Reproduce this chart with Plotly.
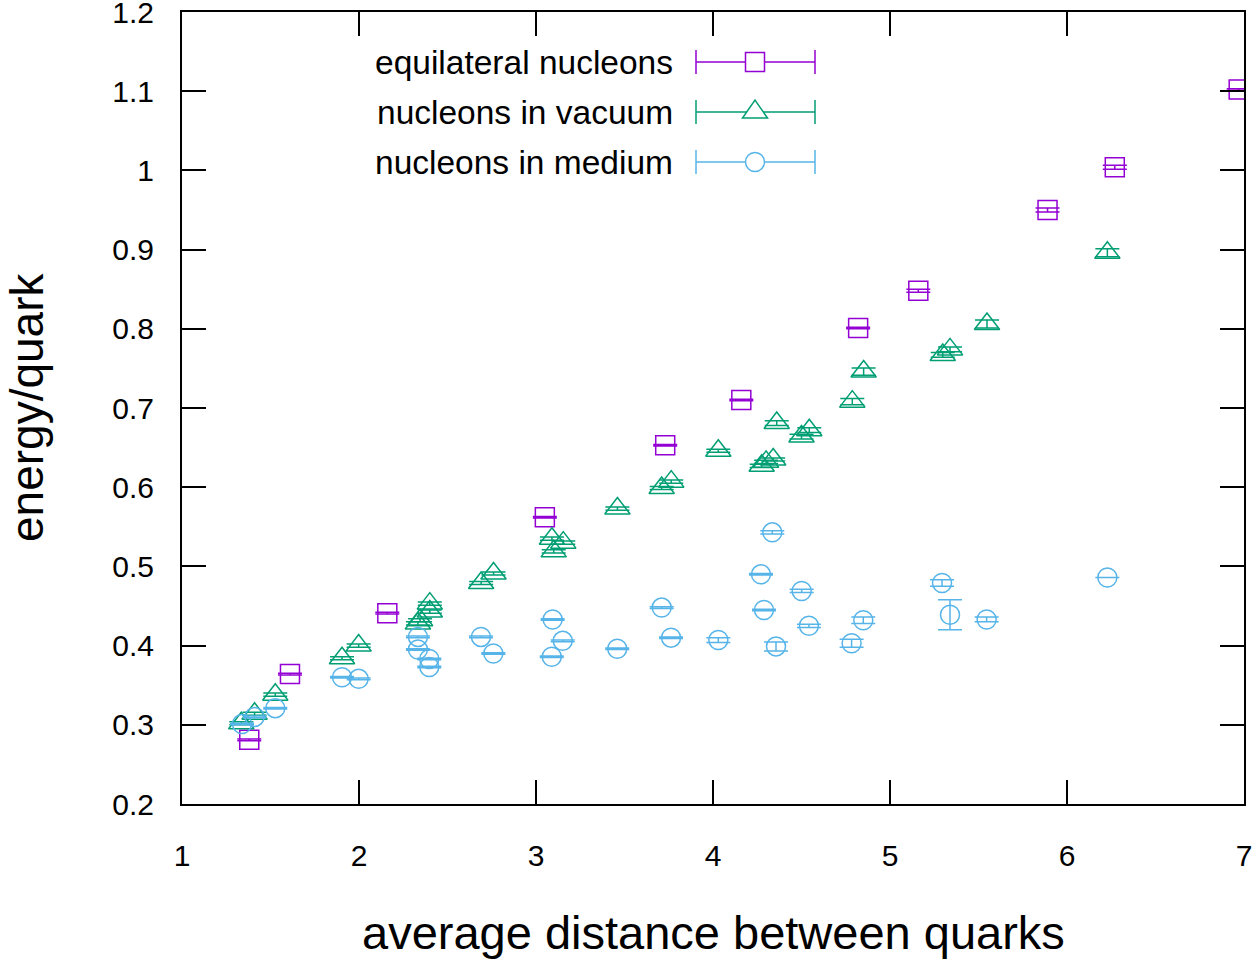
import plotly.graph_objects as go

# ---- data ----
eq_x = [1.38, 1.61, 2.16, 3.05, 3.73, 4.16, 4.82, 5.16, 5.89, 6.27, 6.97]
eq_y = [0.281, 0.364, 0.441, 0.562, 0.653, 0.710, 0.801, 0.848, 0.950, 1.004, 1.102]
eq_e = [0.001, 0.001, 0.001, 0.001, 0.001, 0.001, 0.001, 0.002, 0.0025, 0.0025, 0.001]

vac_x = [1.335, 1.41, 1.527, 1.904, 1.998, 2.333, 2.345, 2.40, 2.40, 2.69, 2.76,
         3.09, 3.10, 3.154, 3.46, 3.71, 3.764, 4.03, 4.275, 4.30, 4.34, 4.36,
         4.50, 4.544, 4.787, 4.851, 5.298, 5.339, 5.548, 6.228]
vac_y = [0.302, 0.314, 0.338, 0.384, 0.400, 0.428, 0.432, 0.443, 0.453, 0.479, 0.491,
         0.535, 0.519, 0.530, 0.573, 0.599, 0.607, 0.646, 0.627, 0.632, 0.635, 0.681,
         0.664, 0.672, 0.708, 0.746, 0.767, 0.774, 0.806, 0.896]
vac_e = [0.002, 0.002, 0.002, 0.002, 0.002, 0.002, 0.002, 0.002, 0.002, 0.002, 0.002,
         0.002, 0.002, 0.002, 0.002, 0.002, 0.002, 0.002, 0.002, 0.002, 0.002, 0.003,
         0.003, 0.003, 0.004, 0.0045, 0.003, 0.003, 0.005, 0.005]

med_x = [1.339, 1.41, 1.527, 1.904, 1.998, 2.333, 2.333, 2.397, 2.397, 2.689, 2.759,
         3.094, 3.151, 3.089, 3.459, 3.71, 3.763, 4.03, 4.271, 4.335, 4.288, 4.356,
         4.501, 4.542, 4.783, 4.849, 5.294, 5.339, 5.546, 6.228]
med_y = [0.301, 0.310, 0.321, 0.360, 0.358, 0.411, 0.395, 0.383, 0.373, 0.411, 0.390,
         0.433, 0.406, 0.386, 0.396, 0.448, 0.410, 0.407, 0.490, 0.543, 0.445, 0.399,
         0.469, 0.425, 0.403, 0.432, 0.479, 0.439, 0.433, 0.486]
med_e = [0.001, 0.001, 0.001, 0.001, 0.001, 0.001, 0.001, 0.001, 0.001, 0.001, 0.001,
         0.001, 0.001, 0.001, 0.001, 0.001, 0.001, 0.003, 0.001, 0.002, 0.001, 0.0057,
         0.002, 0.002, 0.005, 0.004, 0.004, 0.019, 0.003, None]

x_ticks = [1, 2, 3, 4, 5, 6, 7]
y_ticks = [0.2, 0.3, 0.4, 0.5, 0.6, 0.7, 0.8, 0.9, 1.0, 1.1, 1.2]
y_ticktext = ["0.2", "0.3", "0.4", "0.5", "0.6", "0.7", "0.8", "0.9", "1", "1.1", "1.2"]

names = ["equilateral nucleons", "nucleons in vacuum", "nucleons in medium"]
colors = ["#9400D3", "#009E73", "#56B4E9"]
symbols = ["square-open", "triangle-up-open", "circle-open"]
sizes = [19, 22, 19]

FONT = "Liberation Sans, Arial, Helvetica, sans-serif"

fig = go.Figure()
for xs, ys, es, nm, c, s, sz in zip([eq_x, vac_x, med_x], [eq_y, vac_y, med_y],
                                    [eq_e, vac_e, med_e], names, colors, symbols, sizes):
    fig.add_trace(go.Scatter(
        x=xs, y=ys, mode="markers", name=nm,
        marker=dict(symbol=s, size=sz, color=c, line=dict(width=1.5, color=c)),
        error_y=dict(type="data", array=es, visible=True, color=c, thickness=1.5, width=12),
        showlegend=False,
    ))

# plot-area pixel geometry (for legend placement)
L, R, T, B = 182, 1244, 12, 804
def px(xp):
    return (xp - L) / (R - L)
def py(yp):
    return (B - yp) / (B - T)

shapes = []
annotations = []
rows = [62, 112, 162]
for i, (nm, c) in enumerate(zip(names, colors)):
    yc = rows[i]
    annotations.append(dict(x=px(672), y=py(yc), xref="paper", yref="paper", text=nm,
                            showarrow=False, xanchor="right", yanchor="middle", xshift=3,
                            font=dict(family=FONT, size=33.5, color="black")))
    shapes.append(dict(type="line", xref="paper", yref="paper", x0=px(696), x1=px(815),
                       y0=py(yc), y1=py(yc), line=dict(color=c, width=1.5)))
    for xe in (696, 815):
        shapes.append(dict(type="line", xref="paper", yref="paper", x0=px(xe), x1=px(xe),
                           y0=py(yc - 12), y1=py(yc + 12), line=dict(color=c, width=1.5)))
    if i == 0:
        shapes.append(dict(type="rect", xref="paper", yref="paper", x0=px(745.5), x1=px(764.5),
                           y0=py(yc + 9.5), y1=py(yc - 9.5), line=dict(color=c, width=1.5),
                           fillcolor="white"))
    elif i == 1:
        path = "M {} {} L {} {} L {} {} Z".format(px(742.5), py(yc + 6), px(767.5), py(yc + 6),
                                                  px(755), py(yc - 12))
        shapes.append(dict(type="path", xref="paper", yref="paper", path=path,
                           line=dict(color=c, width=1.5), fillcolor="white"))
    else:
        shapes.append(dict(type="circle", xref="paper", yref="paper", x0=px(745.5), x1=px(764.5),
                           y0=py(yc + 9.5), y1=py(yc - 9.5), line=dict(color=c, width=1.5),
                           fillcolor="white"))

annotations.append(dict(x=0.5, y=0, xref="paper", yref="paper", text="average distance between quarks",
                        showarrow=False, xanchor="center", yanchor="middle", yshift=-128,
                        font=dict(family=FONT, size=47, color="black")))
annotations.append(dict(x=0, y=0.5, xref="paper", yref="paper", text="energy/quark",
                        showarrow=False, xanchor="center", yanchor="middle", xshift=-155,
                        textangle=-90, font=dict(family=FONT, size=46, color="black")))

axis_common = dict(showline=True, linecolor="black", linewidth=2, mirror="ticks",
                   ticks="inside", ticklen=24, tickwidth=1.5, tickcolor="black",
                   showgrid=False, zeroline=False, ticklabeloverflow="allow",
                   tickfont=dict(family=FONT, size=30, color="black"))

fig.update_layout(
    width=1255, height=959,
    margin=dict(l=L, r=1255 - R, t=T, b=959 - B, autoexpand=False),
    paper_bgcolor="white", plot_bgcolor="white",
    xaxis=dict(range=[1, 7], tickvals=x_ticks, ticklabelstandoff=24, **axis_common),
    yaxis=dict(range=[0.2, 1.2], tickvals=y_ticks, ticktext=y_ticktext,
               ticklabelstandoff=20, **axis_common),
    shapes=shapes, annotations=annotations, showlegend=False,
)

fig.write_html("out.html")
